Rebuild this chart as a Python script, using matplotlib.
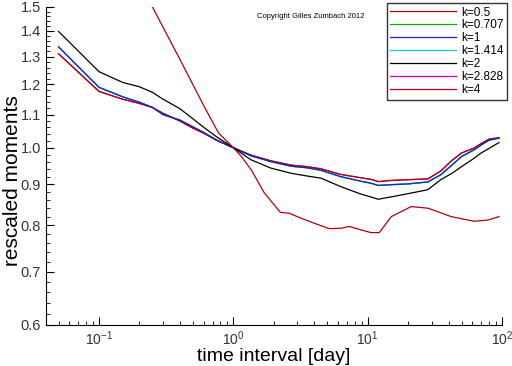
import numpy as np
import matplotlib
matplotlib.use("Agg")
import matplotlib.pyplot as plt
from matplotlib.ticker import FixedLocator, FormatStrFormatter, NullFormatter

plt.rcParams['font.family'] = ['Liberation Sans', 'DejaVu Sans']

# time intervals in days
t = [0.05, 0.1, 0.15, 0.2, 0.25, 0.3, 0.4, 0.5, 0.6, 0.75, 1.0,
     1.35, 1.9, 2.7, 3.5, 4.5, 6.3, 8.9, 10.5, 12, 15, 20, 28, 35,
     42, 50, 62, 70, 80, 95]
t_k4 = [0.05, 0.1, 0.25, 0.4, 0.6, 0.774, 1.0, 1.147, 1.36, 1.70, 2.24, 2.61,
        3.2, 4.29, 5.17, 6.35, 7.28, 8.95, 10.6, 12.2, 15, 21.1, 28.2, 41.8,
        61.9, 78.7, 95]

k_labels = ['k=0.5', 'k=0.707', 'k=1', 'k=1.414', 'k=2', 'k=2.828', 'k=4']
colors = ['#b00000', '#00b000', '#2020c0', '#00d8d8', '#000000', '#c000c0', '#b00010']

m_05 = [1.311, 1.176, 1.150, 1.136, 1.123, 1.104, 1.080, 1.058, 1.043, 1.022, 1.0,
        0.979, 0.963, 0.951, 0.947, 0.941, 0.926, 0.917, 0.913, 0.907, 0.910,
        0.912, 0.914, 0.935, 0.963, 0.985, 0.999, 1.012, 1.025, 1.028]
m_0707 = [1.337, 1.190, 1.158, 1.140, 1.123, 1.100, 1.083, 1.062, 1.045, 1.022, 1.0,
          0.977, 0.961, 0.948, 0.944, 0.937, 0.920, 0.908, 0.903, 0.897, 0.899,
          0.901, 0.906, 0.925, 0.950, 0.975, 0.994, 1.008, 1.022, 1.028]
m_1 = [1.337, 1.190, 1.158, 1.140, 1.123, 1.100, 1.083, 1.062, 1.045, 1.022, 1.0,
       0.977, 0.961, 0.948, 0.944, 0.937, 0.920, 0.908, 0.903, 0.897, 0.899,
       0.901, 0.906, 0.925, 0.950, 0.975, 0.994, 1.008, 1.022, 1.028]
m_1414 = [1.337, 1.190, 1.158, 1.140, 1.123, 1.100, 1.083, 1.062, 1.045, 1.022, 1.0,
          0.977, 0.961, 0.948, 0.944, 0.937, 0.920, 0.908, 0.903, 0.897, 0.899,
          0.901, 0.906, 0.925, 0.950, 0.975, 0.994, 1.008, 1.022, 1.028]
m_2 = [1.398, 1.245, 1.207, 1.192, 1.173, 1.150, 1.119, 1.087, 1.061, 1.032, 1.0,
       0.966, 0.943, 0.929, 0.922, 0.916, 0.894, 0.875, 0.868, 0.862, 0.868,
       0.876, 0.886, 0.912, 0.928, 0.947, 0.970, 0.985, 0.998, 1.015]
m_2828 = [1.311, 1.176, 1.150, 1.136, 1.123, 1.104, 1.080, 1.058, 1.043, 1.022, 1.0,
          0.979, 0.963, 0.951, 0.947, 0.941, 0.926, 0.917, 0.913, 0.907, 0.910,
          0.912, 0.914, 0.935, 0.963, 0.985, 0.999, 1.012, 1.025, 1.030]
m_4 = [2.55, 2.05, 1.50, 1.29, 1.13, 1.044, 1.0, 0.975, 0.938, 0.878, 0.830, 0.828,
       0.816, 0.801, 0.792, 0.793, 0.797, 0.789, 0.783, 0.783, 0.820, 0.844, 0.840,
       0.820, 0.809, 0.812, 0.820]

series = [m_05, m_0707, m_1, m_1414, m_2, m_2828, m_4]
xs = [t, t, t, t, t, t, t_k4]
zorders = [3, 1, 4, 1, 5, 2, 6]

fig = plt.figure(figsize=(5.12, 3.66), dpi=100)
ax = fig.add_axes([46/512, 1-325/366, 456/512, 318/366])

lines = []
for x, y, c, lab, z in zip(xs, series, colors, k_labels, zorders):
    ln, = ax.plot(x, y, color=c, lw=0.9, label=lab, zorder=z)
    lines.append(ln)

ax.set_xscale('log')
ax.set_yscale('log')
ax.set_xlim(0.0403, 100)
ax.set_ylim(0.6, 1.5)

ax.yaxis.set_major_locator(FixedLocator([0.6, 0.7, 0.8, 0.9, 1.0, 1.1, 1.2, 1.3, 1.4, 1.5]))
ax.yaxis.set_major_formatter(FormatStrFormatter('%.1f'))
ax.yaxis.set_minor_locator(FixedLocator(np.arange(0.6, 1.5, 0.02)))
ax.yaxis.set_minor_formatter(NullFormatter())

ax.spines['top'].set_visible(False)
ax.spines['right'].set_visible(False)
ax.tick_params(which='both', direction='in', colors='black')
ax.tick_params(axis='y', labelsize=10.5)
ax.tick_params(axis='x', labelsize=10, pad=3)
ax.tick_params(which='major', length=6)
ax.tick_params(which='minor', length=3)
for lbl in ax.get_xticklabels() + ax.get_yticklabels():
    lbl.set_color('#333333')

ax.set_xlabel('time interval [day]', fontsize=14, labelpad=0)
fig.text(13/512, 1-181/366, 'rescaled moments', fontsize=15, rotation=90,
         ha='center', va='center')

leg = ax.legend(handles=lines, loc='upper right', bbox_to_anchor=(507/512, 1-3/366),
                bbox_transform=fig.transFigure, fontsize=8.5, frameon=True,
                fancybox=False, handlelength=5.6, labelspacing=0.08,
                borderpad=0.3, handletextpad=0.4, borderaxespad=0)
leg.get_frame().set_edgecolor('black')
leg.get_frame().set_linewidth(1.0)

fig.text(257/512, 1-17/366, 'Copyright Gilles Zumbach 2012', fontsize=5.5, va='center')

fig.savefig('out.png', dpi=100)
